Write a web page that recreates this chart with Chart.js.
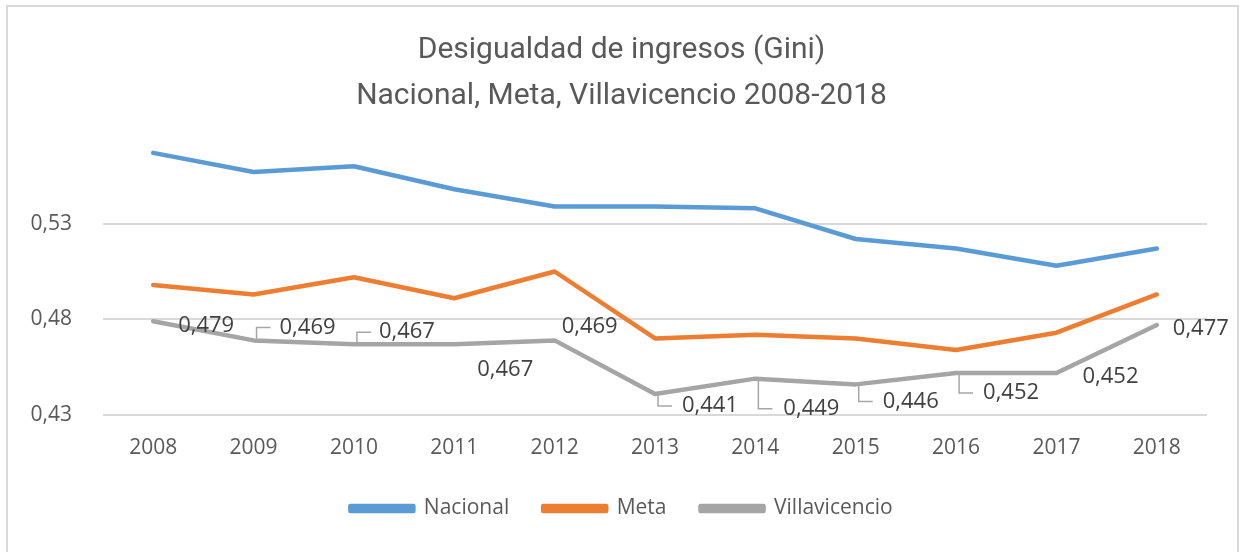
<!DOCTYPE html>
<html>
<head>
<meta charset="utf-8">
<script src="https://cdn.jsdelivr.net/npm/chart.js@4"></script>
<style>
  html, body { margin: 0; padding: 0; background: #fff; }
  #wrap { position: relative; width: 1243px; height: 552px; }
</style>
</head>
<body>
<div id="wrap"><canvas id="giniChart"></canvas></div>
<script>
const years = ['2008', '2009', '2010', '2011', '2012', '2013', '2014', '2015', '2016', '2017', '2018'];
const nacional = [0.567, 0.557, 0.560, 0.548, 0.539, 0.539, 0.538, 0.522, 0.517, 0.508, 0.517];
const meta = [0.498, 0.493, 0.502, 0.491, 0.505, 0.470, 0.472, 0.470, 0.464, 0.473, 0.493];
const villavicencio = [0.479, 0.469, 0.467, 0.467, 0.469, 0.441, 0.449, 0.446, 0.452, 0.452, 0.477];
const yTicks = [0.43, 0.48, 0.53];

// where each Villavicencio label sits relative to its point: [dx to text start, dy to text middle, leader line]
const labelPlacement = [
    [25, 4, false], [26, -13, true], [25, -12, true], [23, 26, false], [7, -14, false],
    [27, 12, true], [28, 30, true], [27, 17, true], [27, 20, true], [26, 4, false], [16, 4, false]
];

const fmt = v => v.toFixed(3).replace('.', ',');

// light frame round the whole chart, like the Excel chart area
const framePlugin = {
    id: 'frame',
    beforeDraw(chart) {
        const ctx = chart.ctx;
        ctx.save();
        ctx.fillStyle = '#fff';
        ctx.fillRect(0, 0, chart.width, chart.height);
        ctx.strokeStyle = '#d9d9d9';
        ctx.lineWidth = 2;
        ctx.strokeRect(7, 6, 1231, 600);
        ctx.restore();
    }
};

// data labels for the Villavicencio series, with the little bracket leaders
const villaLabels = {
    id: 'villaLabels',
    afterDatasetsDraw(chart) {
        const ctx = chart.ctx;
        const pts = chart.getDatasetMeta(2).data;
        ctx.save();
        ctx.font = '22px "Open Sans"';
        ctx.textBaseline = 'middle';
        ctx.textAlign = 'left';
        pts.forEach((p, i) => {
            const [dx, dy, leader] = labelPlacement[i];
            const cy = p.y + dy;
            if (leader) {
                ctx.strokeStyle = '#a6a6a6';
                ctx.lineWidth = 1.5;
                ctx.beginPath();
                ctx.moveTo(p.x + 3, p.y);
                ctx.lineTo(p.x + 3, cy);
                ctx.lineTo(p.x + 17, cy);
                ctx.stroke();
            }
            ctx.fillStyle = '#404040';
            ctx.fillText(fmt(villavicencio[i]), p.x + dx, cy);
        });
        ctx.restore();
    }
};

const lineDs = (label, data, color) => ({
    label: label,
    data: data,
    borderColor: color,
    backgroundColor: color,
    borderWidth: 4.5,
    pointRadius: 0,
    borderCapStyle: 'round',
    borderJoinStyle: 'round',
    tension: 0
});

new Chart(document.getElementById('giniChart'), {
    type: 'line',
    data: {
        labels: years,
        datasets: [
            lineDs('Nacional', nacional, '#5b9bd5'),
            lineDs('Meta', meta, '#ed7d31'),
            lineDs('Villavicencio', villavicencio, '#a5a5a5')
        ]
    },
    plugins: [framePlugin, villaLabels],
    options: {
        responsive: true,
        maintainAspectRatio: false,
        animation: false,
        layout: { padding: { left: 0, right: 0, top: 0, bottom: 23 } },
        plugins: {
            title: {
                display: true,
                text: ['Desigualdad de ingresos (Gini)', 'Nacional, Meta, Villavicencio 2008-2018'],
                color: '#595959',
                font: { family: 'Roboto', size: 30, weight: 'normal', lineHeight: 1.55 },
                padding: { top: 27, bottom: 8 }
            },
            legend: {
                position: 'bottom',
                labels: {
                    color: '#595959',
                    font: { family: '"Open Sans"', size: 21 },
                    boxWidth: 63,
                    boxHeight: 5,
                    padding: 34
                }
            },
            tooltip: { enabled: false }
        },
        scales: {
            x: {
                offset: true,
                grid: { display: false, drawTicks: false },
                border: { display: false },
                ticks: { color: '#595959', font: { family: '"Open Sans"', size: 21 }, padding: 20, maxRotation: 0 },
                afterFit(scale) { scale.height = 49; }
            },
            y: {
                min: 0.43,
                max: 0.58,
                afterBuildTicks(scale) { scale.ticks = yTicks.map(v => ({ value: v })); },
                grid: { color: '#d9d9d9', lineWidth: 2, drawTicks: false },
                border: { display: false },
                ticks: {
                    color: '#595959',
                    font: { family: '"Open Sans"', size: 21 },
                    padding: 31,
                    callback: v => fmt(v).slice(0, 4)
                },
                afterFit(scale) { scale.width = 103; }
            },
            // empty right margin so the title stays centred on the whole chart
            yRight: {
                position: 'right',
                grid: { display: false },
                border: { display: false },
                ticks: { display: false },
                afterFit(scale) { scale.width = 36; }
            }
        }
    }
});
</script>
</body>
</html>
